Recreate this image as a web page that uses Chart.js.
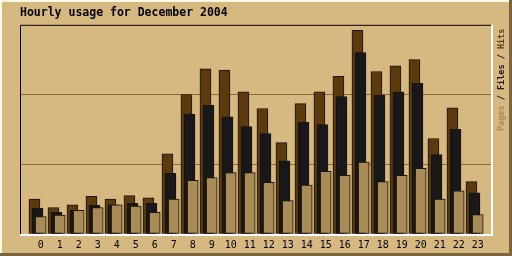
<!DOCTYPE html>
<html>
<head>
<meta charset="utf-8">
<script src="https://cdn.jsdelivr.net/npm/chart.js@4"></script>
<style>
  body { margin: 0; background: #d6b881; }
  canvas { display: block; }
</style>
</head>
<body>
<canvas id="myChart" width="512" height="256"></canvas>
<script>
const ctx = document.getElementById('myChart')

const hours = ['0','1','2','3','4','5','6','7','8','9','10','11','12','13','14','15','16','17','18','19','20','21','22','23']
const hits  = [50, 38, 42, 54, 50, 55, 52, 115, 200, 237, 235, 204, 180, 131, 187, 204, 226, 292, 233, 241, 250, 137, 181, 75]
const files = [37, 31, 34, 41, 42, 44, 44, 87, 172, 185, 168, 154, 144, 105, 160, 157, 197, 260, 199, 204, 216, 114, 150, 59]
const pages = [25, 27, 34, 38, 42, 40, 31, 50, 77, 81, 88, 88, 74, 48, 70, 90, 84, 103, 75, 84, 94, 50, 62, 28]

const bg = '#d6b881'
const hitsColor = '#5b3b0e'
const filesColor = '#18181a'
const pagesColor = '#a98b55'

// the three bars of one hour overlap, shifted a bit to the left
function points(values, shift) {
    return values.map((v, i) => ({x: i + shift, y: v}))
}

const framePlugin = {
    id: 'frame',
    beforeDraw(chart) {
        const c = chart.ctx
        const w = chart.width, h = chart.height
        c.save()
        c.fillStyle = bg
        c.fillRect(0, 0, w, h)
        // outer bevel
        c.fillStyle = '#fffbe6'
        c.fillRect(0, 0, w, 2)
        c.fillRect(0, 0, 2, h)
        c.fillStyle = '#7a6440'
        c.fillRect(0, h - 3, w, 3)
        c.fillRect(w - 3, 0, 3, h)
        c.restore()
    },
    afterDraw(chart) {
        const c = chart.ctx
        const a = chart.chartArea
        c.save()
        c.lineWidth = 1
        c.strokeStyle = '#000000'
        c.beginPath()
        c.moveTo(a.left + 0.5, a.bottom)
        c.lineTo(a.left + 0.5, a.top + 0.5)
        c.lineTo(a.right, a.top + 0.5)
        c.stroke()
        c.strokeStyle = '#ffffff'
        c.lineWidth = 2
        c.beginPath()
        c.moveTo(a.left, a.bottom + 1)
        c.lineTo(a.right + 1, a.bottom + 1)
        c.lineTo(a.right + 1, a.top)
        c.stroke()

        // vertical legend on the right side
        c.translate(502, 131)
        c.rotate(-Math.PI / 2)
        c.font = 'bold 8.5px "DejaVu Sans Mono"'
        c.textBaseline = 'middle'
        const parts = [['Pages', pagesColor], [' / ', '#2a2010'], ['Files', filesColor], [' / ', '#2a2010'], ['Hits', hitsColor]]
        let x = 0
        parts.forEach(p => {
            c.fillStyle = p[1]
            c.fillText(p[0], x, 0)
            x += c.measureText(p[0]).width
        })
        c.restore()
    }
}

const data = {
    datasets: [
        {label: 'Hits', data: points(hits, -0.33), backgroundColor: hitsColor, order: 3},
        {label: 'Files', data: points(files, -0.17), backgroundColor: filesColor, order: 2},
        {label: 'Pages', data: points(pages, 0), backgroundColor: pagesColor, order: 1}
    ]
}

const config = {
    type: 'bar',
    data: data,
    options: {
        responsive: false,
        animation: false,
        layout: {padding: {left: 20, right: 21, top: 1, bottom: 0}},
        datasets: {
            bar: {
                grouped: false,
                barThickness: 11,
                borderWidth: 1,
                borderColor: '#1a1208',
                borderSkipped: false
            }
        },
        plugins: {
            legend: {display: false},
            tooltip: {enabled: false},
            title: {
                display: true,
                text: 'Hourly usage for December 2004',
                align: 'start',
                color: '#000000',
                font: {family: 'DejaVu Sans Mono', size: 11.5, weight: 'bold'},
                padding: {top: 5, bottom: 5}
            }
        },
        scales: {
            x: {
                type: 'linear',
                offset: false,
                min: -1.09,
                max: 23.7,
                afterBuildTicks: (scale) => {
                    scale.ticks = hours.map((h, i) => ({value: i}))
                },
                ticks: {
                    color: '#000000',
                    font: {family: 'DejaVu Sans Mono', size: 10},
                    padding: 5,
                    maxRotation: 0,
                    autoSkip: false,
                    callback: (v) => hours[v]
                },
                grid: {display: false, drawTicks: false},
                border: {display: false}
            },
            y: {
                min: 0,
                max: 300,
                ticks: {display: false, stepSize: 100},
                grid: {
                    drawTicks: false,
                    color: (c) => (c.tick.value === 100 || c.tick.value === 200) ? '#8a6a30' : 'rgba(0,0,0,0)'
                },
                border: {display: false}
            }
        }
    },
    plugins: [framePlugin]
}

const myChart = new Chart(ctx, config)
</script>
</body>
</html>
